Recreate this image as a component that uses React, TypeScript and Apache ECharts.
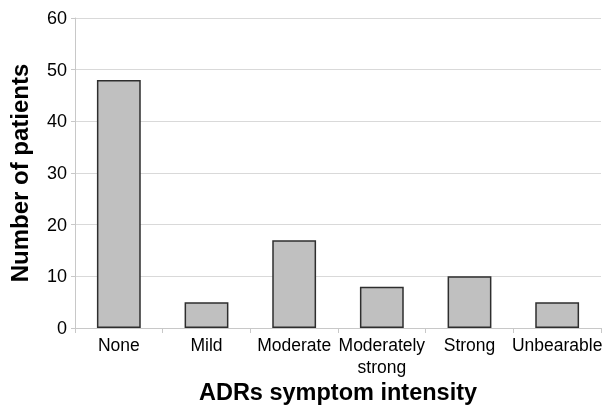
import React, { useEffect, useRef } from "react";
import * as echarts from "echarts";

const categories = ["None", "Mild", "Moderate", "Moderately\nstrong", "Strong", "Unbearable"];
const patients = [48, 5, 17, 8, 10, 5];
const yTicks = { min: 0, max: 60, interval: 10 };

export default function App() {
  const ref = useRef<HTMLDivElement>(null);
  useEffect(() => {
    if (!ref.current) return;
    const chart = echarts.init(ref.current, undefined, { renderer: "svg" });
    const font = "Liberation Sans, Arial, sans-serif";
    chart.setOption({
      animation: false,
      grid: { left: 75, right: 10, top: 18, bottom: 79, containLabel: false, outerBoundsMode: "none" },
      xAxis: {
        type: "category",
        data: categories,
        axisLine: { show: true, lineStyle: { color: "#c8c8c8", width: 1 } },
        axisTick: { show: true, length: 5, lineStyle: { color: "#c8c8c8" } },
        axisLabel: { color: "#000", fontSize: 17.5, fontFamily: font, margin: 6, lineHeight: 22, interval: 0 },
        name: "ADRs symptom intensity",
        nameLocation: "middle",
        nameGap: 52,
        nameMoveOverlap: false,
        nameTextStyle: { color: "#000", fontSize: 23.5, fontWeight: "bold", fontFamily: font, verticalAlign: "top" },
      },
      yAxis: {
        type: "value",
        min: yTicks.min,
        max: yTicks.max,
        interval: yTicks.interval,
        axisLine: { show: true, lineStyle: { color: "#c8c8c8", width: 1 } },
        axisTick: { show: true, length: 4, lineStyle: { color: "#c8c8c8" } },
        splitLine: { show: true, lineStyle: { color: "#d9d9d9", width: 1 } },
        axisLabel: { color: "#000", fontSize: 18, fontFamily: font, margin: 8 },
        name: "Number of patients",
        nameLocation: "middle",
        nameGap: 44,
        nameMoveOverlap: false,
        nameTextStyle: { color: "#000", fontSize: 24, fontWeight: "bold", fontFamily: font },
      },
      series: [
        {
          type: "bar",
          data: patients,
          barWidth: "50%",
          itemStyle: { color: "#c0c0c0", borderColor: "#2e2e2e", borderWidth: 1.5 },
        },
      ],
    });
    return () => chart.dispose();
  }, []);
  return <div ref={ref} style={{ position: "fixed", left: 0, top: 0, width: 611, height: 407 }} />;
}
